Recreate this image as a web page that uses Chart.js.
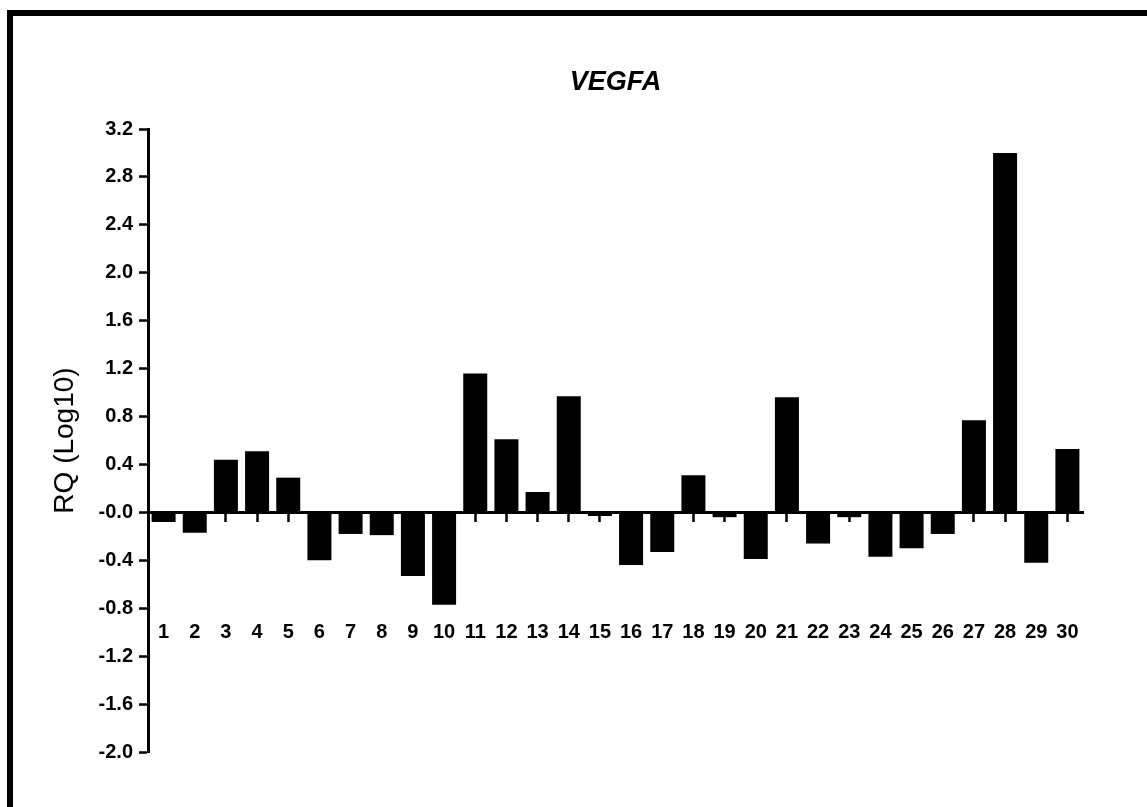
<!DOCTYPE html>
<html>
<head>
<meta charset="utf-8">
<title>VEGFA</title>
<script src="https://cdn.jsdelivr.net/npm/chart.js@4/dist/chart.umd.min.js"></script>
<style>
  html, body { margin: 0; padding: 0; background: #ffffff; overflow: hidden; }
  #wrap { position: relative; width: 1147px; height: 807px; }
  #frame {
    position: absolute; left: 7px; top: 10px; right: -20px; bottom: -20px;
    border-top: 6px solid #000; border-left: 6px solid #000;
    pointer-events: none;
  }
  canvas { position: absolute; left: 0; top: 0; }
</style>
</head>
<body>
<div id="wrap">
  <canvas id="chart" width="1147" height="807"></canvas>
  <div id="frame"></div>
</div>
<script>
// Samples 1..30
const categories = ['1','2','3','4','5','6','7','8','9','10','11','12','13','14','15',
                    '16','17','18','19','20','21','22','23','24','25','26','27','28','29','30'];

// Relative quantity (log10) per sample
const rqLog10 = [-0.08, -0.17, 0.44, 0.51, 0.29, -0.40, -0.18, -0.19, -0.53, -0.77,
                 1.16, 0.61, 0.17, 0.97, -0.03, -0.44, -0.33, 0.31, -0.04, -0.39,
                 0.96, -0.26, -0.04, -0.37, -0.30, -0.18, 0.77, 3.00, -0.42, 0.53];

// Y axis ticks and their printed labels
const yTickValues = [3.2, 2.8, 2.4, 2.0, 1.6, 1.2, 0.8, 0.4, 0.0, -0.4, -0.8, -1.2, -1.6, -2.0];
const yTickLabels = ['3.2','2.8','2.4','2.0','1.6','1.2','0.8','0.4','-0.0','-0.4','-0.8','-1.2','-1.6','-2.0'];

const FONT = "'Liberation Sans', Arial, sans-serif";

new Chart(document.getElementById('chart'), {
  type: 'bar',
  data: {
    labels: categories,
    datasets: [{
      data: rqLog10,
      backgroundColor: '#000000',
      borderWidth: 0,
      barPercentage: 0.77,
      categoryPercentage: 1.0
    }]
  },
  options: {
    responsive: false,
    animation: false,
    devicePixelRatio: 1,
    layout: { padding: { left: 0, right: 64, top: 0, bottom: 55 } },
    plugins: {
      legend: { display: false },
      tooltip: { enabled: false },
      title: {
        display: true,
        text: 'VEGFA',
        fullSize: false,
        color: '#000',
        font: { family: FONT, size: 27, weight: 'bold', style: 'italic' },
        padding: { top: 66, bottom: 30.6 }
      }
    },
    scales: {
      x: {
        // axis drawn across the zero line, labels pushed down below the bars
        position: { y: 0 },
        offset: true,
        grid: {
          display: true,
          offset: false,
          drawOnChartArea: false,
          drawTicks: true,
          tickLength: 8,
          tickWidth: 2.5,
          color: '#000'
        },
        border: { display: true, color: '#000', width: 3 },
        ticks: {
          autoSkip: false,
          maxRotation: 0,
          minRotation: 0,
          padding: 100,
          color: '#000',
          font: { family: FONT, size: 20, weight: 'bold' }
        },
        afterFit: (scale) => {
          scale.height = 0;
          scale.paddingLeft = 0;
          scale.paddingRight = 0;
        }
      },
      y: {
        position: 'left',
        min: -2.0,
        max: 3.2,
        afterBuildTicks: (scale) => {
          scale.ticks = yTickValues.map(v => ({ value: v }));
        },
        afterFit: (scale) => { scale.width = 148; },
        grid: {
          display: true,
          drawOnChartArea: false,
          drawTicks: true,
          tickLength: 9,
          tickWidth: 2.5,
          color: '#000'
        },
        border: { display: true, color: '#000', width: 3 },
        ticks: {
          padding: 6,
          color: '#000',
          font: { family: FONT, size: 20, weight: 'bold' },
          callback: (value, index) => yTickLabels[index]
        },
        title: {
          display: true,
          text: 'RQ (Log10)',
          color: '#000',
          font: { family: FONT, size: 28, weight: 'normal' },
          padding: { top: 48, bottom: 0 }
        }
      }
    }
  }
});
</script>
</body>
</html>
